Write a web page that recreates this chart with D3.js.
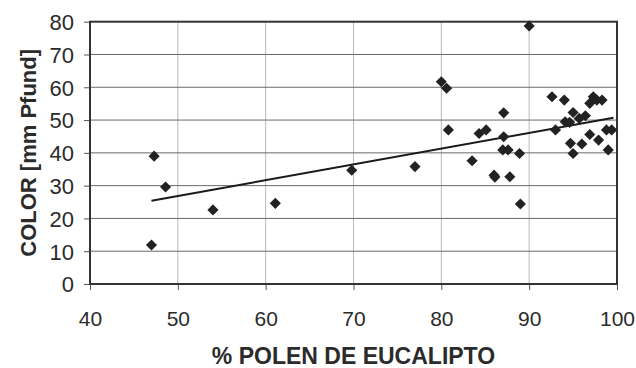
<!DOCTYPE html>
<html><head><meta charset="utf-8">
<script src="https://cdn.jsdelivr.net/npm/d3@7"></script>
<style>
html,body{margin:0;padding:0;background:#fff;}
svg{display:block;}
text{font-family:"Liberation Sans",Arial,sans-serif;fill:#2b2b2b;}
</style></head>
<body>
<svg id="chart" width="636" height="368"></svg>
<script>
const polen = [47.3, 48.6, 47.0, 54.0, 61.1, 69.8, 77.0, 80.0, 80.6, 80.8, 83.5, 84.3, 85.1, 87.1, 87.1, 87.0, 87.6, 88.9, 86.0, 86.1, 87.8, 89.0, 90.0, 92.6, 94.0, 95.0, 94.1, 94.6, 93.0, 95.7, 96.4, 96.9, 97.3, 97.7, 98.3, 96.9, 97.9, 94.7, 96.0, 95.0, 98.8, 99.4, 99.0];
const color = [39.0, 29.6, 11.9, 22.6, 24.6, 34.7, 35.8, 61.7, 59.7, 47.0, 37.6, 45.9, 47.0, 52.2, 44.9, 40.9, 40.9, 39.8, 33.2, 32.6, 32.7, 24.4, 78.7, 57.1, 56.1, 52.3, 49.5, 49.3, 47.0, 50.5, 51.3, 55.1, 57.1, 56.1, 56.1, 45.6, 43.9, 42.9, 42.7, 39.8, 47.0, 47.0, 40.9];
const trendX = [47.0, 99.6];
const trendY = [25.4, 50.7];
const xTicks = [40, 50, 60, 70, 80, 90, 100];
const yTicks = [0, 10, 20, 30, 40, 50, 60, 70, 80];
const xTitle = "% POLEN DE EUCALIPTO";
const yTitle = "COLOR [mm Pfund]";

const svg = d3.select("#chart");
const L = 90, R = 617, T = 21.7, B = 284;
const x = d3.scaleLinear().domain([40, 100]).range([L, R]);
const y = d3.scaleLinear().domain([0, 80]).range([B, T]);

// gridlines
svg.append("g").selectAll("line").data(xTicks.slice(1, -1)).join("line")
  .attr("x1", d => x(d)).attr("x2", d => x(d)).attr("y1", T).attr("y2", B)
  .attr("stroke", "#b8b8b8").attr("stroke-width", 1);
svg.append("g").selectAll("line").data(yTicks.slice(1, -1)).join("line")
  .attr("x1", L).attr("x2", R).attr("y1", d => y(d)).attr("y2", d => y(d))
  .attr("stroke", "#6a6a6a").attr("stroke-width", 1);

// axes
const xAxis = svg.append("g").attr("transform", `translate(0,${B})`)
  .call(d3.axisBottom(x).tickValues(xTicks).tickSize(6).tickPadding(21).tickFormat(d3.format("d")));
const yAxis = svg.append("g").attr("transform", `translate(${L},0)`)
  .call(d3.axisLeft(y).tickValues(yTicks).tickSize(6).tickPadding(10).tickFormat(d3.format("d")));
[xAxis, yAxis].forEach(g => {
  g.select(".domain").remove();
  g.selectAll(".tick line").attr("stroke", "#555");
  g.selectAll("text").attr("fill", "#2b2b2b").style("font-size", "21px")
    .style("font-family", "'Liberation Sans', Arial, sans-serif");
});
xAxis.selectAll("text").attr("dy", "0.71em");
yAxis.selectAll("text").style("font-size", "22px").attr("dy", "0.36em");

// plot border
svg.append("rect").attr("x", L).attr("y", T).attr("width", R - L).attr("height", B - T)
  .attr("fill", "none").attr("stroke", "#333").attr("stroke-width", 2);

// trend line
svg.append("line")
  .attr("x1", x(trendX[0])).attr("y1", y(trendY[0]))
  .attr("x2", x(trendX[1])).attr("y2", y(trendY[1]))
  .attr("stroke", "#1a1a1a").attr("stroke-width", 2);

// points (square rotated 45° = diamond)
const marker = d3.symbol().type(d3.symbolSquare).size(62);
svg.append("g").selectAll("path").data(polen.map((p, i) => [p, color[i]])).join("path")
  .attr("d", marker)
  .attr("transform", d => `translate(${x(d[0])},${y(d[1])}) rotate(45)`)
  .attr("fill", "#222");

// titles
svg.append("text").attr("x", (L + R) / 2).attr("y", 364).attr("text-anchor", "middle")
  .style("font-size", "23px").style("font-weight", "bold").text(xTitle);
svg.append("text").attr("transform", `translate(36,${(T + B) / 2}) rotate(-90)`)
  .attr("text-anchor", "middle")
  .style("font-size", "22px").style("font-weight", "bold").text(yTitle);
</script>
</body></html>
